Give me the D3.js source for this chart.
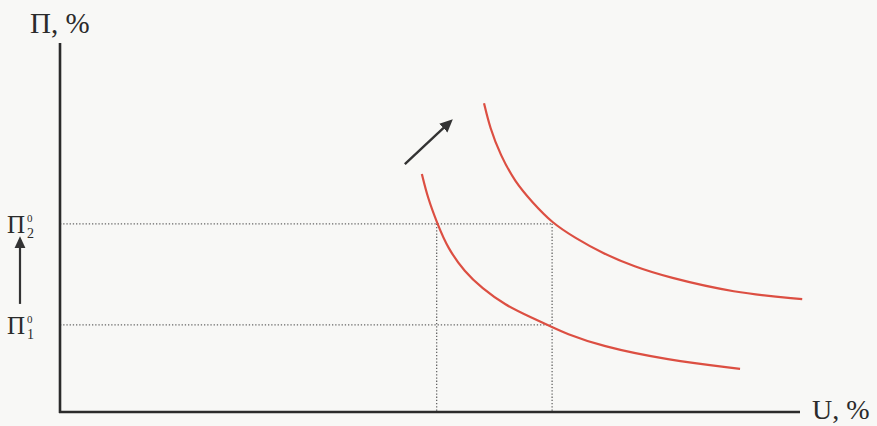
<!DOCTYPE html>
<html>
<head>
<meta charset="utf-8">
<script src="https://cdn.jsdelivr.net/npm/d3@7"></script>
<style>
  body { margin: 0; background: #f8f8f6; }
  svg { display: block; }
  .lbl { font-family: "Liberation Serif", "DejaVu Serif", serif; fill: #2b2b2b; }
</style>
</head>
<body>
<svg id="chart" width="877" height="426"></svg>
<script>
// Phillips curve shift: points [U, П]
var curveLow  = [[4.89,6.45],[4.97,5.8],[5.1,5.1],[5.24,4.44],[5.47,3.79],[5.7,3.36],[6.01,2.9],[6.38,2.55],
                 [6.65,2.3],[6.82,2.14],[7.3,1.79],[8.2,1.41],[9.19,1.17]];
var curveHigh = [[5.73,8.37],[5.81,7.7],[5.95,6.97],[6.15,6.23],[6.38,5.69],[6.65,5.12],[6.96,4.72],[7.32,4.31],
                 [7.77,3.93],[8.2,3.66],[9.1,3.23],[10.03,3.06]];
var levelsP = [5.1, 2.36];      // П2, П1
var levelsU = [5.09, 6.65];     // guide verticals
var shiftArrow = [[4.66,6.72],[5.27,7.86]];
var levelLabels = [{sub:"2", p:5.1}, {sub:"1", p:2.36}];

var svg = d3.select("#chart");
var x = d3.scaleLinear().domain([0, 10]).range([60, 800]);
var y = d3.scaleLinear().domain([0, 10]).range([412, 43]);

var defs = svg.append("defs");
defs.append("marker")
    .attr("id", "head")
    .attr("viewBox", "0 -5 10 10")
    .attr("refX", 7).attr("refY", 0)
    .attr("markerWidth", 5.4).attr("markerHeight", 5.4)
    .attr("markerUnits", "strokeWidth")
    .attr("orient", "auto")
  .append("path")
    .attr("d", "M0,-4.6L10,0L0,4.6Z")
    .attr("fill", "#333");

// dotted guides
svg.selectAll(".hguide").data(levelsP).enter().append("line")
    .attr("class", "hguide")
    .attr("x1", x(0)).attr("x2", x(levelsU[1]))
    .attr("y1", function(d){ return y(d); }).attr("y2", function(d){ return y(d); })
    .attr("stroke", "#666").attr("stroke-width", 1.3)
    .attr("stroke-dasharray", "1.3,1.9");
svg.selectAll(".vguide").data(levelsU).enter().append("line")
    .attr("class", "vguide")
    .attr("x1", function(d){ return x(d); }).attr("x2", function(d){ return x(d); })
    .attr("y1", y(levelsP[0])).attr("y2", y(0))
    .attr("stroke", "#666").attr("stroke-width", 1.3)
    .attr("stroke-dasharray", "1.3,1.9");

// axes
svg.append("line").attr("x1", x(0)).attr("x2", x(0)).attr("y1", y(0) + 1).attr("y2", y(10))
    .attr("stroke", "#2b2b2b").attr("stroke-width", 2.6);
svg.append("line").attr("x1", x(0) - 1).attr("x2", x(10)).attr("y1", y(0)).attr("y2", y(0))
    .attr("stroke", "#2b2b2b").attr("stroke-width", 2.6);

// curves
var line = d3.line().x(function(d){ return x(d[0]); }).y(function(d){ return y(d[1]); })
    .curve(d3.curveBasis);
svg.selectAll(".curve").data([curveLow, curveHigh]).enter().append("path")
    .attr("class", "curve")
    .attr("d", line)
    .attr("fill", "none")
    .attr("stroke", "#dc4f42")
    .attr("stroke-width", 2.2);

// shift arrow
svg.append("line")
    .attr("x1", x(shiftArrow[0][0])).attr("y1", y(shiftArrow[0][1]))
    .attr("x2", x(shiftArrow[1][0])).attr("y2", y(shiftArrow[1][1]))
    .attr("stroke", "#333").attr("stroke-width", 2.4)
    .attr("marker-end", "url(#head)");

// axis titles
svg.append("text").attr("class", "lbl").attr("x", 30).attr("y", 33)
    .attr("font-size", 29).text("П, %");
svg.append("text").attr("class", "lbl").attr("x", 812).attr("y", 419)
    .attr("font-size", 28).text("U, %");

// П levels labels
var lab = svg.selectAll(".lvl").data(levelLabels).enter().append("g").attr("class", "lvl");
lab.append("text").attr("class", "lbl").attr("x", 7)
    .attr("y", function(d){ return y(d.p) + 9; })
    .attr("font-size", 25).text("П");
lab.append("text").attr("class", "lbl").attr("x", 27)
    .attr("y", function(d){ return y(d.p) - 2; })
    .attr("font-size", 11).text("0");
lab.append("text").attr("class", "lbl").attr("x", 27)
    .attr("y", function(d){ return y(d.p) + 14; })
    .attr("font-size", 14).text(function(d){ return d.sub; });

// vertical arrow between levels
svg.append("line")
    .attr("x1", 20).attr("x2", 20)
    .attr("y1", y(levelsP[1]) - 21).attr("y2", y(levelsP[0]) + 16)
    .attr("stroke", "#333").attr("stroke-width", 2.2)
    .attr("marker-end", "url(#head)");
</script>
</body>
</html>
